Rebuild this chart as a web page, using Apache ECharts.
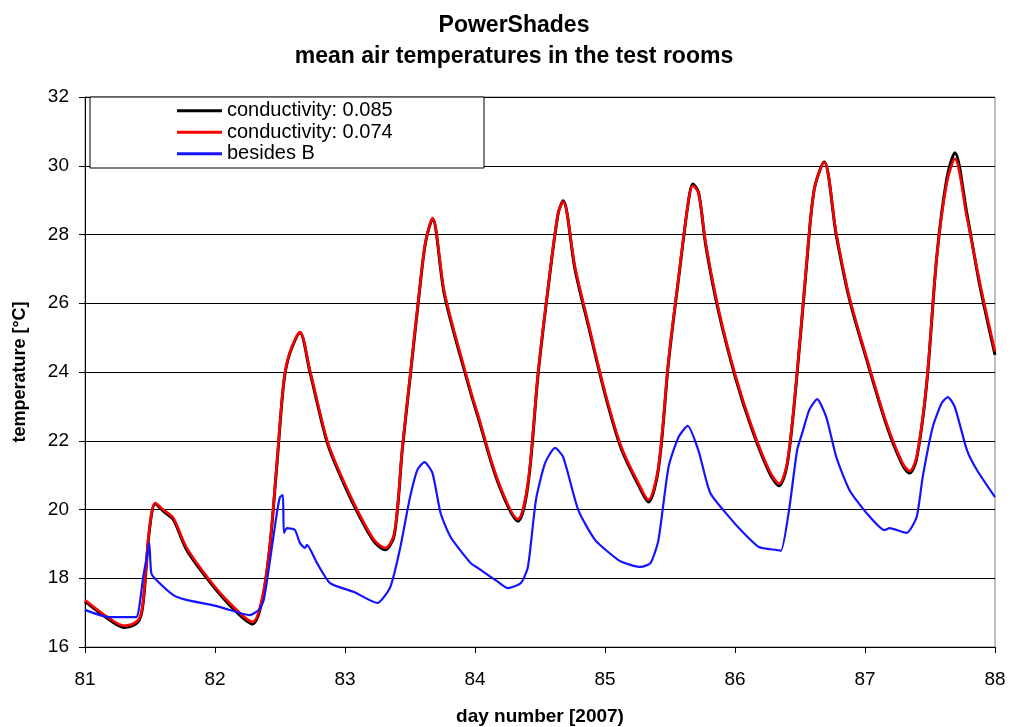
<!DOCTYPE html>
<html>
<head>
<meta charset="utf-8">
<script src="https://cdn.jsdelivr.net/npm/echarts@6/dist/echarts.min.js"></script>
<style>html,body{margin:0;padding:0;background:#fff}#c{width:1010px;height:727px}</style>
</head>
<body>
<div id="c"></div>
<script>
const seriesNames = ['conductivity: 0.085', 'conductivity: 0.074', 'besides B'];
const yTicks = [16, 18, 20, 22, 24, 26, 28, 30, 32];
const xTicks = [81, 82, 83, 84, 85, 86, 87, 88];

const condDays = [81.0, 81.185, 81.30, 81.394, 81.433, 81.456, 81.494, 81.541, 81.603, 81.68, 81.78, 81.958, 82.113, 82.29, 82.36, 82.42, 82.476, 82.53, 82.576, 82.653, 82.73, 82.862, 82.962, 83.094, 83.225, 83.31, 83.38, 83.441, 83.503, 83.573, 83.62, 83.673, 83.766, 83.967, 84.021, 84.175, 84.33, 84.407, 84.485, 84.562, 84.639, 84.678, 84.77, 84.871, 85.002, 85.126, 85.257, 85.334, 85.411, 85.489, 85.566, 85.643, 85.675, 85.72, 85.775, 85.875, 86.007, 86.13, 86.262, 86.339, 86.401, 86.47, 86.548, 86.609, 86.686, 86.779, 86.88, 87.011, 87.165, 87.289, 87.343, 87.397, 87.474, 87.552, 87.629, 87.691, 87.784, 87.884, 88.0];

const cond074 = [17.37, 16.84, 16.62, 16.73, 16.99, 17.66, 19.4, 20.19, 19.99, 19.75, 18.9, 17.95, 17.28, 16.73, 17.37, 18.9, 21.35, 23.77, 24.58, 25.16, 24.06, 22.02, 21.06, 19.99, 19.11, 18.88, 19.32, 21.8, 23.97, 26.39, 27.8, 28.48, 26.3, 23.45, 22.78, 20.86, 19.72, 20.77, 23.97, 26.47, 28.62, 28.95, 27.05, 25.43, 23.39, 21.82, 20.77, 20.28, 21.24, 24.35, 26.76, 29.0, 29.42, 29.2, 27.75, 25.8, 23.85, 22.4, 21.15, 20.75, 21.35, 23.68, 27.05, 29.3, 30.11, 28.04, 26.18, 24.44, 22.52, 21.35, 21.12, 21.53, 23.68, 27.35, 29.5, 30.2, 28.5, 26.59, 24.6];

const cond085 = [17.33, 16.80, 16.57, 16.68, 16.95, 17.6, 19.35, 20.17, 19.95, 19.7, 18.84, 17.9, 17.22, 16.67, 17.3, 18.85, 21.3, 23.72, 24.55, 25.14, 24.0, 21.96, 21.0, 19.93, 19.06, 18.83, 19.27, 21.75, 23.92, 26.35, 27.78, 28.45, 26.22, 23.39, 22.72, 20.8, 19.66, 20.7, 23.92, 26.42, 28.6, 28.98, 26.97, 25.36, 23.33, 21.76, 20.71, 20.22, 21.18, 24.3, 26.72, 29.0, 29.47, 29.22, 27.68, 25.73, 23.79, 22.34, 21.09, 20.69, 21.3, 23.63, 27.0, 29.3, 30.12, 27.98, 26.12, 24.38, 22.46, 21.29, 21.06, 21.48, 23.63, 27.35, 29.62, 30.38, 28.6, 26.5, 24.5];

const besidesDays = [81.0, 81.185, 81.394, 81.417, 81.448, 81.471, 81.494, 81.51, 81.549, 81.68, 81.78, 82.012, 82.19, 82.267, 82.337, 82.375, 82.42, 82.476, 82.5, 82.522, 82.53, 82.553, 82.615, 82.653, 82.692, 82.707, 82.785, 82.885, 83.07, 83.248, 83.349, 83.426, 83.496, 83.557, 83.611, 83.673, 83.735, 83.812, 83.967, 84.021, 84.175, 84.253, 84.353, 84.407, 84.469, 84.539, 84.616, 84.678, 84.794, 84.925, 85.103, 85.195, 85.273, 85.35, 85.411, 85.489, 85.566, 85.636, 85.72, 85.81, 85.976, 86.03, 86.184, 86.323, 86.354, 86.416, 86.478, 86.517, 86.571, 86.632, 86.702, 86.779, 86.88, 87.011, 87.15, 87.189, 87.32, 87.397, 87.444, 87.521, 87.59, 87.637, 87.691, 87.784, 87.861, 88.0];

const besidesB = [17.08, 16.87, 16.87, 17.16, 18.04, 18.53, 19.03, 18.15, 17.95, 17.51, 17.37, 17.19, 16.99, 16.93, 17.08, 17.37, 18.44, 19.9, 20.36, 20.42, 19.32, 19.46, 19.4, 19.03, 18.88, 18.97, 18.44, 17.86, 17.6, 17.28, 17.75, 18.91, 20.28, 21.15, 21.38, 21.06, 19.9, 19.2, 18.44, 18.3, 17.9, 17.71, 17.86, 18.33, 20.28, 21.35, 21.79, 21.53, 19.99, 19.11, 18.53, 18.39, 18.33, 18.44, 19.11, 21.24, 22.11, 22.43, 21.7, 20.48, 19.69, 19.46, 18.91, 18.82, 18.8, 19.99, 21.73, 22.22, 22.89, 23.21, 22.69, 21.53, 20.57, 19.9, 19.4, 19.46, 19.32, 19.78, 20.95, 22.4, 23.1, 23.27, 22.98, 21.73, 21.15, 20.36];

const pair = (xs, ys) => xs.map((x, i) => [x, ys[i]]);
const FONT = '"Liberation Sans", Arial, Helvetica, sans-serif';

const chart = echarts.init(document.getElementById('c'), null, {renderer: 'canvas'});
chart.setOption({
  animation: false,
  backgroundColor: '#fff',
  title: {
    text: 'PowerShades\nmean air temperatures in the test rooms',
    left: 514, top: 10, padding: 0,
    textAlign: 'center',
    textStyle: {fontFamily: FONT, fontSize: 23, fontWeight: 'bold', color: '#000', lineHeight: 31}
  },
  graphic: [{
    type: 'rect', z: 3,
    shape: {x: 90, y: 97, width: 394, height: 71},
    style: {fill: '#fff', stroke: '#000', lineWidth: 1}
  }],
  legend: {
    z: 4,
    orient: 'vertical',
    left: 177, top: 100, padding: 0,
    icon: 'rect',
    itemWidth: 45, itemHeight: 3, itemGap: 0,
    data: seriesNames,
    textStyle: {fontFamily: FONT, fontSize: 20, color: '#000', lineHeight: 21.5}
  },
  grid: {left: 85, right: 15, top: 97, bottom: 80, show: true, borderColor: '#808080', borderWidth: 1,
         backgroundColor: 'transparent', containLabel: false, outerBoundsMode: 'none'},
  xAxis: {
    type: 'value', min: xTicks[0], max: xTicks[xTicks.length - 1], interval: 1,
    name: 'day number [2007)', nameLocation: 'middle', nameGap: 60,
    nameTextStyle: {fontFamily: FONT, fontSize: 19, fontWeight: 'bold', color: '#000'},
    axisLine: {lineStyle: {color: '#000', width: 1}},
    axisTick: {inside: false, length: 6, lineStyle: {color: '#000'}},
    axisLabel: {margin: 23, fontFamily: FONT, fontSize: 19, color: '#000'},
    splitLine: {show: false}
  },
  yAxis: {
    type: 'value', min: yTicks[0], max: yTicks[yTicks.length - 1], interval: 2,
    name: 'temperature [°C]', nameLocation: 'middle', nameGap: 56, nameRotate: 90,
    nameTextStyle: {fontFamily: FONT, fontSize: 18, fontWeight: 'bold', color: '#000'},
    axisLine: {show: true, lineStyle: {color: '#000', width: 1}},
    axisTick: {show: true, inside: false, length: 6, lineStyle: {color: '#000'}},
    axisLabel: {margin: 16, fontFamily: FONT, fontSize: 19, color: '#000'},
    splitLine: {show: true, lineStyle: {color: '#000', width: 1}}
  },
  series: [
    {name: seriesNames[0], type: 'line', data: pair(condDays, cond085), showSymbol: false, symbol: 'none', smooth: 0.3,
     lineStyle: {color: '#000', width: 3}, itemStyle: {color: '#000'}, z: 2},
    {name: seriesNames[1], type: 'line', data: pair(condDays, cond074), showSymbol: false, symbol: 'none', smooth: 0.3,
     lineStyle: {color: '#ff0000', width: 2.6}, itemStyle: {color: '#ff0000'}, z: 2},
    {name: seriesNames[2], type: 'line', data: pair(besidesDays, besidesB), showSymbol: false, symbol: 'none', smooth: 0.2,
     lineStyle: {color: '#1414ff', width: 2.2}, itemStyle: {color: '#1414ff'}, z: 2}
  ]
});
</script>
</body>
</html>
